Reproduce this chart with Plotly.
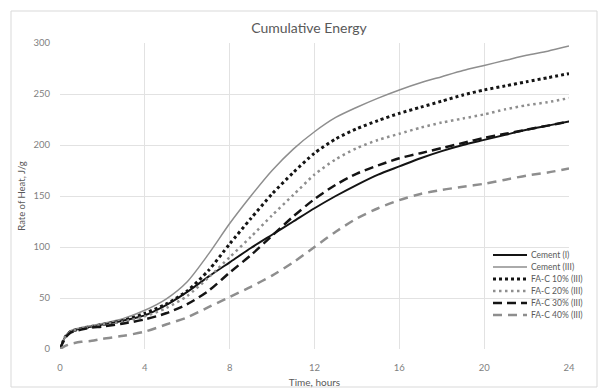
import plotly.graph_objects as go

# Elapsed time (hours) at which cumulative heat was sampled
hours = [0, 0.25, 0.5, 1, 1.5, 2, 3, 4, 5, 6, 7, 8, 9, 10, 11, 12,
         13, 14, 15, 16, 17, 18, 19, 20, 21, 22, 23, 24]

# Cumulative heat, J/g
cement_i = [0, 12, 17, 20, 22, 24, 28, 33, 43, 56, 71, 85, 99, 112, 125, 138,
            150, 161, 171, 179, 187, 194, 200, 205, 210, 215, 219, 223]
cement_iii = [0, 12, 18, 21, 23, 25, 30, 38, 49, 66, 93, 123, 150, 175, 196, 213,
              227, 237, 246, 254, 261, 267, 273, 278, 283, 288, 292, 297]
fac_10 = [0, 12, 17, 20, 22, 24, 28, 35, 44, 57, 77, 103, 128, 152, 173, 192,
          206, 216, 224, 231, 237, 243, 249, 254, 258, 262, 266, 270]
fac_20 = [0, 12, 17, 20, 22, 24, 27, 32, 40, 52, 70, 90, 110, 131, 151, 171,
          186, 197, 205, 211, 217, 222, 226, 230, 235, 239, 242, 246]
fac_30 = [0, 11, 16, 19, 21, 22, 25, 29, 35, 44, 57, 75, 92, 111, 130, 147,
          161, 172, 180, 187, 192, 197, 202, 207, 211, 215, 219, 223]
fac_40 = [0, 3, 5, 7, 8, 10, 13, 17, 24, 31, 41, 51, 61, 72, 85, 100,
          115, 128, 138, 146, 152, 156, 159, 162, 166, 170, 173, 177]

series_names = ["Cement (I)", "Cement (III)", "FA-C 10% (III)",
                "FA-C 20% (III)", "FA-C 30% (III)", "FA-C 40% (III)"]
series_values = [cement_i, cement_iii, fac_10, fac_20, fac_30, fac_40]

x_ticks = [0, 4, 8, 12, 16, 20, 24]
y_ticks = [0, 50, 100, 150, 200, 250, 300]

BLACK = "#141414"
GREY = "#8e8e8e"
TEXT = "#595959"
GRID = "#e2e2e2"
FONT = "Lato, 'Open Sans', sans-serif"

line_styles = [
    dict(color=BLACK, width=2, dash="solid"),
    dict(color=GREY, width=1.5, dash="solid"),
    dict(color=BLACK, width=3, dash="3px,3px"),
    dict(color=GREY, width=2.5, dash="2.5px,3.5px"),
    dict(color=BLACK, width=2.5, dash="9px,5px"),
    dict(color=GREY, width=2.5, dash="9px,6px"),
]

W, H = 609, 389
L, R, T, B = 60, 40, 43, 40
PW, PH = W - L - R, H - T - B


def px_x(px):
    return (px - L) / PW


def px_y(py):
    return (H - B - py) / PH


fig = go.Figure()
for name, vals, style in zip(series_names, series_values, line_styles):
    fig.add_trace(go.Scatter(
        x=hours, y=vals, name=name, mode="lines",
        line=dict(shape="spline", smoothing=0.7, **style),
        showlegend=False,
    ))

shapes = [
    # chart-area border
    dict(type="rect", xref="paper", yref="paper",
         x0=px_x(11), x1=px_x(597), y0=px_y(387), y1=px_y(11),
         line=dict(color="#d9d9d9", width=1), fillcolor="rgba(0,0,0,0)",
         layer="below"),
    # legend background
    dict(type="rect", xref="paper", yref="paper",
         x0=px_x(488), x1=px_x(567), y0=px_y(346), y1=px_y(249),
         line=dict(width=0), fillcolor="white", layer="between"),
]
annotations = []
for i, (name, style) in enumerate(zip(series_names, line_styles)):
    yy = px_y(255 + 12 * i)
    shapes.append(dict(type="line", xref="paper", yref="paper",
                       x0=px_x(493), x1=px_x(527), y0=yy, y1=yy,
                       line=dict(color=style["color"], width=style["width"],
                                 dash=style["dash"]),
                       layer="above"))
    annotations.append(dict(xref="paper", yref="paper", x=px_x(529), y=yy,
                            text=name, showarrow=False, xanchor="left",
                            yanchor="middle",
                            font=dict(family=FONT, size=8.5, color=TEXT)))

fig.update_layout(
    width=W, height=H,
    margin=dict(l=L, r=R, t=T, b=B),
    paper_bgcolor="white", plot_bgcolor="white",
    title=dict(text="Cumulative Energy", x=309 / W, xanchor="center",
               y=1 - 28 / H, yanchor="middle",
               font=dict(family=FONT, size=14, color=TEXT)),
    xaxis=dict(range=[0, 24], tickvals=x_ticks, showgrid=True,
               gridcolor=GRID, gridwidth=1, zeroline=False, showline=False,
               ticks="", ticklabelstandoff=11, automargin=False,
               tickfont=dict(family=FONT, size=9.5, color="#7f7f7f"),
               title=dict(text="Time, hours", standoff=7,
                          font=dict(family=FONT, size=10, color=TEXT))),
    yaxis=dict(range=[0, 300], tickvals=y_ticks, showgrid=True,
               gridcolor=GRID, gridwidth=1, zeroline=False, showline=False,
               ticks="", ticklabelstandoff=9, automargin=False,
               tickfont=dict(family=FONT, size=9.5, color="#7f7f7f"),
               title=dict(text="Rate of Heat, J/g", standoff=6,
                          font=dict(family=FONT, size=9.5, color=TEXT))),
    shapes=shapes,
    annotations=annotations,
)

fig.write_html("out.html")
